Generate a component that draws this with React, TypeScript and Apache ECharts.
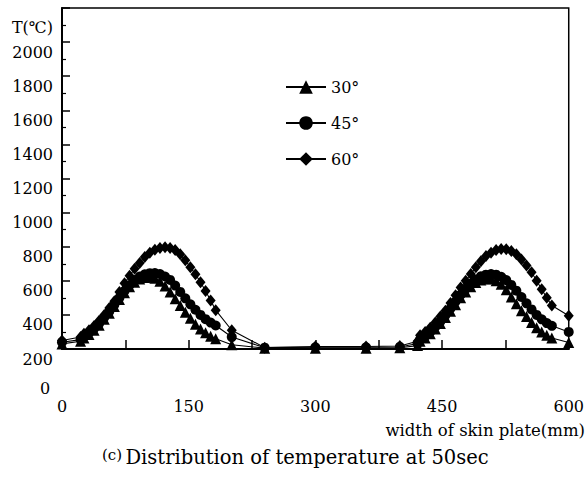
import React, { useEffect, useRef } from "react";
import * as echarts from "echarts";

// x positions (mm) shared by the three series
const xPositions = [
  0, 22,
  26, 32, 38, 44, 50, 56, 62, 68, 74, 80, 86, 92, 98, 104, 110, 116, 122, 128, 134, 140, 146, 152, 158, 164, 170, 176, 182,
  201, 240, 300, 360, 400, 421,
  424, 430, 436, 442, 448, 454, 460, 466, 472, 478, 484, 490, 496, 502, 508, 514, 520, 526, 532, 538, 544, 550, 556, 562, 568, 574, 580,
  600,
];

const t30 = [
  230, 245,
  265, 285, 310, 340, 375, 410, 450, 490, 530, 565, 592, 610, 620, 622, 615, 598, 570, 535, 495, 455, 415, 380, 345, 318, 295, 275, 260,
  225, 205, 205, 205, 207, 220,
  245, 265, 290, 318, 350, 385, 422, 460, 500, 535, 565, 590, 605, 612, 610, 600, 580, 548, 505, 465, 425, 390, 355, 325, 300, 280, 265,
  238,
];

const t45 = [
  240, 255,
  275, 295, 320, 350, 385, 420, 460, 500, 540, 575, 605, 625, 638, 645, 646, 640, 625, 605, 572, 535, 497, 462, 430, 400, 375, 355, 338,
  270, 208, 210, 210, 212, 232,
  255, 275, 300, 330, 362, 398, 438, 478, 518, 553, 583, 608, 626, 636, 640, 636, 624, 604, 576, 542, 505, 468, 432, 400, 374, 352, 336,
  300,
];

const t60 = [
  250, 270,
  290, 310, 335, 365, 400, 440, 480, 535, 585, 630, 670, 705, 740, 765, 782, 793, 797, 793, 780, 755, 720, 680, 638, 592, 540, 485, 428,
  310, 208, 215, 215, 218, 245,
  280, 300, 325, 355, 390, 425, 470, 515, 560, 600, 640, 680, 715, 745, 765, 780, 787, 785, 775, 755, 725, 690, 650, 600, 550, 500, 455,
  395,
];

const seriesNames = ["30°", "45°", "60°"];
const xLabelValues = [0, 150, 300, 450, 600];
const yTopLabel = "T(℃)";
const xAxisTitle = "width of skin plate(mm)";
const caption = "Distribution of temperature at 50sec";

const FONT = "DejaVu Serif";

export default function App() {
  const ref = useRef<HTMLDivElement>(null);
  useEffect(() => {
    if (!ref.current) return;
    const chart = echarts.init(ref.current, undefined, { renderer: "svg" });
    const mk = (vals: number[]) => xPositions.map((x, i) => [x, vals[i]]);
    const lineStyle = { color: "#000", width: 1.1 };
    chart.setOption({
      animation: false,
      backgroundColor: "#fff",
      grid: {
        left: 62,
        top: 8,
        right: 12,
        bottom: 128,
        show: true,
        borderColor: "#000",
        borderWidth: 1.5,
      },
      legend: {
        orient: "vertical",
        left: 280,
        top: 74,
        itemWidth: 40,
        itemHeight: 17,
        itemGap: 20,
        data: seriesNames,
        textStyle: { fontFamily: FONT, fontSize: 16, color: "#000" },
      },
      xAxis: {
        type: "value",
        min: 0,
        max: 600,
        interval: 75,
        axisLine: { show: true, lineStyle: { color: "#000", width: 2 } },
        axisTick: { show: true, inside: true, length: 9, lineStyle: { color: "#000", width: 1.5 } },
        splitLine: { show: false },
        axisLabel: {
          margin: 49,
          color: "#000",
          fontFamily: FONT,
          fontSize: 16,
          formatter: (v: number) => (xLabelValues.includes(v) ? String(v) : ""),
        },
      },
      yAxis: {
        type: "value",
        min: 200,
        max: 2200,
        interval: 200,
        axisLine: { show: true, lineStyle: { color: "#000", width: 2 } },
        axisTick: { show: true, inside: true, length: 8, lineStyle: { color: "#000", width: 1.5 } },
        minorTick: { show: true, splitNumber: 2, length: 4, lineStyle: { color: "#000", width: 1.2 } },
        splitLine: { show: false },
        axisLabel: {
          margin: 9,
          verticalAlign: "top",
          padding: [2, 0, 0, 0],
          color: "#000",
          fontFamily: FONT,
          fontSize: 16,
          formatter: (v: number) => (v === 2200 ? "{t|" + yTopLabel + "}" : String(v)),
          rich: {
            t: { fontFamily: FONT, fontSize: 16, color: "#000", padding: [9, 0, 0, 0] },
          },
        },
      },
      series: [
        {
          name: seriesNames[0],
          type: "line",
          data: mk(t30),
          symbol: "triangle",
          symbolSize: 11,
          itemStyle: { color: "#000" },
          lineStyle,
        },
        {
          name: seriesNames[1],
          type: "line",
          data: mk(t45),
          symbol: "circle",
          symbolSize: 10,
          itemStyle: { color: "#000" },
          lineStyle,
        },
        {
          name: seriesNames[2],
          type: "line",
          data: mk(t60),
          symbol: "diamond",
          symbolSize: [10, 12],
          itemStyle: { color: "#000" },
          lineStyle,
        },
      ],
      graphic: [
        {
          type: "text",
          left: 40,
          top: 380,
          style: { text: "0", fontFamily: FONT, fontSize: 16, fill: "#000" },
        },
        {
          type: "text",
          right: 2,
          top: 422,
          style: { text: xAxisTitle, fontFamily: FONT, fontSize: 16.5, fill: "#000" },
        },
        {
          type: "text",
          left: 102,
          top: 447,
          style: {
            text: "{s|(c)} {m|" + caption + "}",
            fill: "#000",
            rich: {
              s: { fontFamily: FONT, fontSize: 15, fill: "#000", verticalAlign: "top" },
              m: { fontFamily: FONT, fontSize: 19.5, fill: "#000" },
            },
          },
        },
      ],
    });
    return () => chart.dispose();
  }, []);
  return (
    <div
      ref={ref}
      style={{ position: "fixed", left: 0, top: 0, width: 587, height: 477, background: "#fff" }}
    />
  );
}
